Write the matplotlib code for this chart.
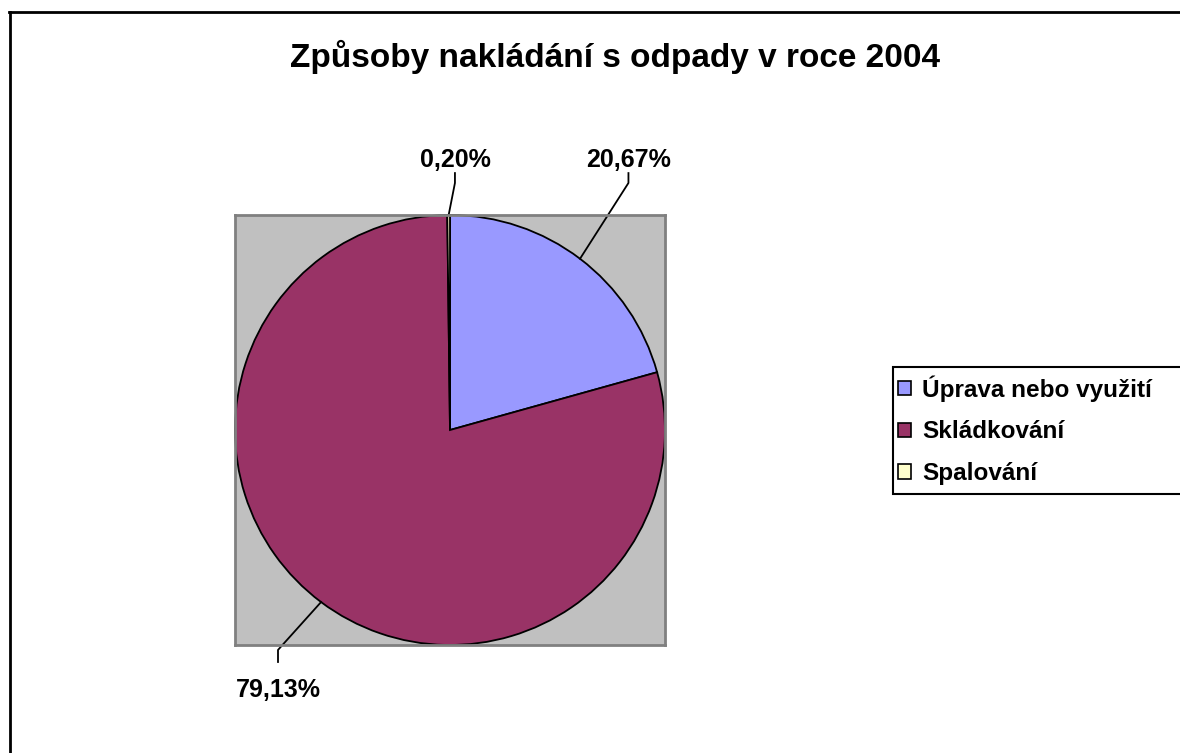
# Pie chart: waste handling methods in 2004 (Czech)
import numpy as np
import matplotlib.pyplot as plt
from matplotlib.patches import Patch, Rectangle
from matplotlib.lines import Line2D

plt.rcParams["font.family"] = ["Liberation Sans", "DejaVu Sans"]

# -----------------------------------------------------------------------------
# Data
# -----------------------------------------------------------------------------
categories = ["Úprava nebo využití", "Skládkování", "Spalování"]
shares = [20.67, 79.13, 0.20]
share_labels = ["20,67%", "79,13%", "0,20%"]
colors = ["#9999FF", "#993366", "#FFFFCC"]

# label centres (data units, pie radius = 1)
label_pos = [(0.83, 1.256), (-0.80, -1.209), (0.023, 1.256)]

# -----------------------------------------------------------------------------
# Figure
# -----------------------------------------------------------------------------
W, H = 1180, 753
fig = plt.figure(figsize=(W / 100, H / 100), dpi=100)

# outer chart border (only top/left edges are inside the picture)
fig.add_artist(Line2D([9 / W, 1], [1 - 12 / H, 1 - 12 / H], color="black", lw=2))
fig.add_artist(Line2D([10 / W, 10 / W], [0, 1 - 12 / H], color="black", lw=2))

fig.text(615 / W, 1 - 57 / H, "Způsoby nakládání s odpady v roce 2004",
         ha="center", va="center", fontsize=24, fontweight="bold")

ax = fig.add_axes([235 / W, 1 - 645 / H, 430 / W, 430 / H])
wedges, _ = ax.pie(shares, colors=colors, startangle=90, counterclock=False,
                   radius=1.0, frame=True,
                   wedgeprops=dict(edgecolor="black", linewidth=1.3))
for w in wedges:
    w.set_clip_on(False)
ax.set_facecolor("#C0C0C0")
for s in ax.spines.values():
    s.set_color("#808080")
    s.set_linewidth(2)
ax.set_xticks([])
ax.set_yticks([])
ax.set_xlim(-1, 1)
ax.set_ylim(-1, 1)
ax.set_aspect("auto")

# percentage labels with leader lines
for w, txt, (lx, ly) in zip(wedges, share_labels, label_pos):
    mid = np.deg2rad((w.theta1 + w.theta2) / 2)
    px, py = np.cos(mid), np.sin(mid)
    if ly > 0:
        ax.plot([lx, lx, px], [1.195, 1.149, py], color="black", lw=1.3, clip_on=False)
    else:
        ax.plot([lx, lx, px], [-1.079, -1.023, py], color="black", lw=1.3, clip_on=False)
    ax.text(lx, ly, txt, ha="center", va="center", fontsize=18, fontweight="bold")

# legend box runs past the right edge of the picture
fig.add_artist(Rectangle((893 / W, 1 - 494 / H), 400 / W, 127 / H,
                         transform=fig.transFigure, facecolor="white",
                         edgecolor="black", linewidth=1.5))
handles = [Patch(facecolor=c, edgecolor="black", linewidth=1.2) for c in colors]
leg = fig.legend(handles, categories, loc="upper left",
                 bbox_to_anchor=(898 / W, 1 - 375 / H),
                 prop=dict(size=17.5, weight="bold"), frameon=False,
                 handlelength=0.55, handleheight=0.55, handletextpad=0.45,
                 labelspacing=0.78, borderpad=0, borderaxespad=0)

fig.savefig("out.png", dpi=100, facecolor="white")
